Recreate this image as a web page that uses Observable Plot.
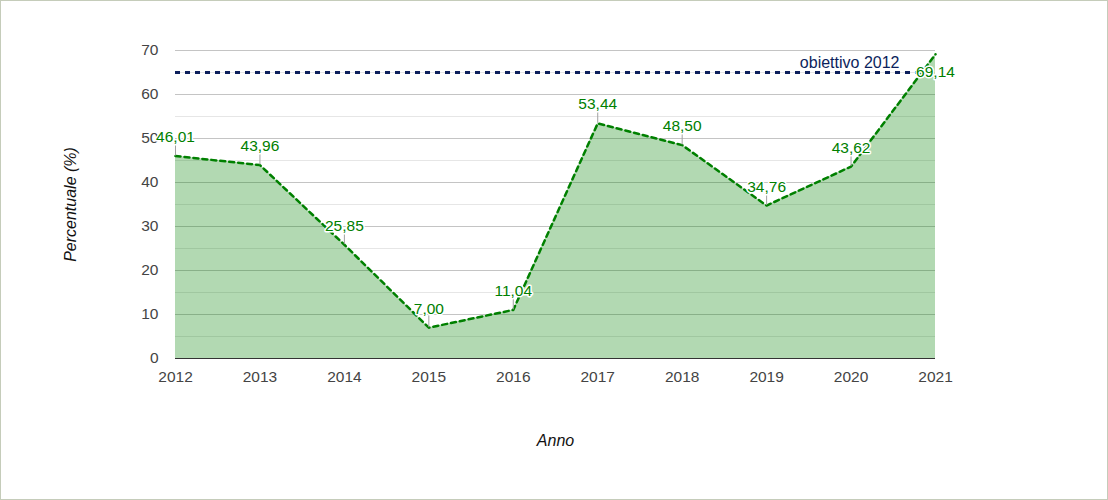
<!DOCTYPE html>
<html>
<head>
<meta charset="utf-8">
<script src="https://cdn.jsdelivr.net/npm/d3@7"></script>
<script src="https://cdn.jsdelivr.net/npm/@observablehq/plot@0.6"></script>
<style>
  html, body { margin: 0; padding: 0; background: #fff; }
  #wrap { position: relative; width: 1108px; height: 500px; overflow: hidden; }
  #frame { position: absolute; left: 0; top: 0; width: 1108px; height: 500px; box-sizing: border-box; border: 1px solid #c5ccba; pointer-events: none; }
</style>
</head>
<body>
<div id="wrap"><div id="frame"></div></div>
<script>
const years = [2012, 2013, 2014, 2015, 2016, 2017, 2018, 2019, 2020, 2021];
const values = [46.01, 43.96, 25.85, 7.00, 11.04, 53.44, 48.50, 34.76, 43.62, 69.14];
const majorTicks = [0, 10, 20, 30, 40, 50, 60, 70];
const minorTicks = [5, 15, 25, 35, 45, 55, 65];
const targetValue = 65;
const targetLabel = "obiettivo 2012";
const xTitle = "Anno";
const yTitle = "Percentuale (%)";

const data = years.map((year, i) => ({year, value: values[i], label: values[i].toFixed(2).replace(".", ","), last: i === years.length - 1}));

const spike = {draw(context, l) { context.moveTo(0, 0); context.lineTo(0, -l); }};

const chart = Plot.plot({
  width: 1108,
  height: 500,
  marginLeft: 175,
  marginRight: 173,
  marginTop: 50,
  marginBottom: 142,
  style: {fontFamily: "'Liberation Sans', Arial, sans-serif", fontSize: "15.5px", color: "#444", background: "transparent"},
  x: {domain: [2012, 2021], ticks: years, tickFormat: d => String(d), tickSize: 0, tickPadding: 12, label: null},
  y: {domain: [0, 70], ticks: majorTicks, tickSize: 0, tickPadding: 17, label: null},
  marks: [
    Plot.ruleY(minorTicks, {stroke: "#e6e6e6", strokeWidth: 1}),
    Plot.ruleY(majorTicks.filter(d => d > 0), {stroke: "#c4c4c4", strokeWidth: 1}),
    Plot.areaY(data, {x: "year", y: "value", fill: "#008000", fillOpacity: 0.3}),
    Plot.lineY(data, {x: "year", y: "value", stroke: "#008000", strokeWidth: 2.5, strokeDasharray: "5,4"}),
    Plot.ruleY([0], {stroke: "#333", strokeWidth: 1.2}),
    Plot.ruleY([targetValue], {stroke: "#0c1f5c", strokeWidth: 3, strokeDasharray: "5,5"}),
    Plot.text([{v: targetValue, t: targetLabel}], {y: "v", text: "t", frameAnchor: "right", textAnchor: "end", dx: -36, dy: -10, fill: "#0c1f5c", fontSize: 16}),
    Plot.vector(data.filter(d => !d.last), {x: "year", y: "value", length: 11, rotate: 0, anchor: "start", shape: spike, stroke: "#a0a0a0", strokeWidth: 1, dy: -1}),
    Plot.text(data.filter(d => !d.last), {x: "year", y: "value", text: "label", dy: -19, fill: "#008000", stroke: "white", strokeWidth: 3, fontSize: 15.5}),
    Plot.text(data.filter(d => d.last), {x: "year", y: "value", text: "label", dy: 18, fill: "#008000", stroke: "white", strokeWidth: 3, fontSize: 15.5}),
    Plot.text([yTitle], {frameAnchor: "left", textAnchor: "middle", dx: -105, rotate: -90, fontStyle: "italic", fontSize: 16, fill: "#111"}),
    Plot.text([xTitle], {frameAnchor: "bottom", lineAnchor: "middle", dy: 82, fontStyle: "italic", fontSize: 16, fill: "#111"})
  ]
});
document.getElementById("wrap").insertBefore(chart, document.getElementById("frame"));
</script>
</body>
</html>
